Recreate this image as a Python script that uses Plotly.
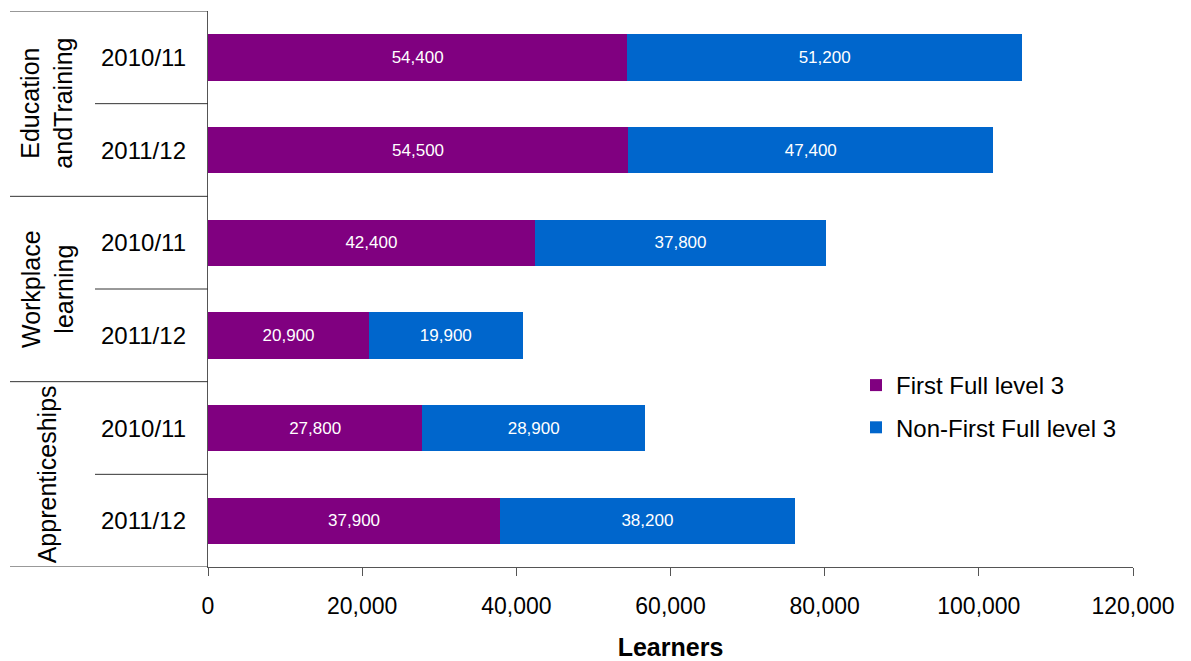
import plotly.graph_objects as go

groups = ["Education<br>andTraining", "Workplace<br>learning", "Apprenticeships"]
years = ["2010/11", "2011/12", "2010/11", "2011/12", "2010/11", "2011/12"]
first_full = [54400, 54500, 42400, 20900, 27800, 37900]
non_first = [51200, 47400, 37800, 19900, 28900, 38200]
series_names = ["First Full level 3", "Non-First Full level 3"]
colors = ["#800080", "#0066CC"]
x_ticks = [0, 20000, 40000, 60000, 80000, 100000, 120000]

rows = list(range(len(years)))
FONT = "Liberation Sans, Arial, sans-serif"

fig = go.Figure()
for name, vals, col in zip(series_names, [first_full, non_first], colors):
    fig.add_trace(go.Bar(
        y=rows, x=vals, orientation="h", name=name, legendgroup=name,
        marker=dict(color=col, line=dict(width=0)),
        text=[f"{v:,}" for v in vals], textposition="inside",
        insidetextanchor="middle",
        textfont=dict(color="white", size=17, family=FONT),
        hoverinfo="skip",
    ))

L, R, T, B = 208, 58, 11, 94
W, H = 1191, 661
pw = W - L - R
ph = H - T - B

def px2paper(px):
    return (px - L) / pw

shapes = []
for yv in [-0.5, 1.5, 3.5, 5.5]:
    shapes.append(dict(type="line", xref="paper", yref="y", x0=px2paper(10), x1=0,
                       y0=yv, y1=yv, line=dict(color="#333333", width=1)))
for yv in [0.5, 2.5, 4.5]:
    shapes.append(dict(type="line", xref="paper", yref="y", x0=px2paper(95), x1=0,
                       y0=yv, y1=yv, line=dict(color="#333333", width=1)))

annotations = []
for i, yr in enumerate(years):
    annotations.append(dict(x=px2paper(188), y=i, xref="paper", yref="y", text=yr,
                            showarrow=False, xanchor="right", yanchor="middle",
                            font=dict(size=24, color="#000000", family=FONT)))
for g, lbl in enumerate(groups):
    annotations.append(dict(x=px2paper(47), y=2 * g + 0.5, xref="paper", yref="y", text=lbl,
                            showarrow=False, textangle=-90, xanchor="center", yanchor="middle",
                            font=dict(size=25, color="#000000", family=FONT)))

fig.update_layout(
    width=W, height=H,
    margin=dict(l=L, r=R, t=T, b=B),
    paper_bgcolor="white", plot_bgcolor="white",
    barmode="stack", bargap=0.5,
    showlegend=True,
    legend=dict(x=px2paper(856), y=(H - B - 363) / ph, xanchor="left", yanchor="top",
                font=dict(size=24, color="#000000", family=FONT),
                traceorder="grouped", tracegroupgap=8, bgcolor="rgba(0,0,0,0)"),
    xaxis=dict(range=[0, 120000], tickvals=x_ticks, ticktext=[f"{v:,}" for v in x_ticks],
               showgrid=False, zeroline=False, showline=True, linecolor="#555555", linewidth=1,
               ticks="outside", ticklen=8, tickcolor="#555555", ticklabelstandoff=10,
               automargin=False,
               tickfont=dict(size=23, color="#000000", family=FONT),
               title=dict(text="<b>Learners</b>", font=dict(size=25, color="#000000", family=FONT),
                          standoff=20)),
    yaxis=dict(range=[5.5, -0.5], showticklabels=False, showgrid=False, zeroline=False,
               showline=True, linecolor="#555555", linewidth=1, ticks="", automargin=False),
    shapes=shapes,
    annotations=annotations,
)

fig.write_html("out.html")
